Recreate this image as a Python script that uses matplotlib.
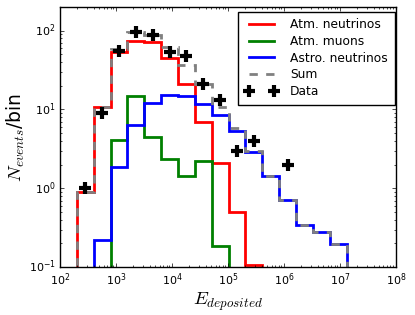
import numpy as np
import matplotlib
matplotlib.use('Agg')
import matplotlib.pyplot as plt
from matplotlib.lines import Line2D

# bin edges: 200 GeV doubling each bin
edges = 200.0 * 2.0 ** np.arange(17)
centers = np.sqrt(edges[:-1] * edges[1:])

atm_nu = [0.9, 10.6, 53, 74.5, 72, 45, 21, 7.0, 2.1, 0.50, 0.105, 0, 0, 0, 0, 0]
atm_mu = [0, 0, 4.1, 14.8, 4.5, 2.36, 1.44, 2.22, 0.186, 0, 0, 0, 0, 0, 0, 0]
astro_nu = [0, 0.22, 1.84, 6.4, 12.2, 15.1, 14.7, 11.8, 8.4, 5.3, 2.87, 1.44, 0.72, 0.34, 0.275, 0.195]
total = np.array(atm_nu) + np.array(atm_mu) + np.array(astro_nu)

data_bins = [0, 1, 2, 3, 4, 5, 6, 7, 8, 9, 10, 12]
data_counts = [1, 9, 55, 95, 88, 54, 48, 21, 13, 3, 4, 2]

plt.style.use('classic')
plt.rcParams['figure.facecolor'] = 'white'
plt.rcParams['savefig.facecolor'] = 'white'
plt.rcParams['xtick.labelsize'] = 8
plt.rcParams['ytick.labelsize'] = 8
plt.rcParams['xtick.major.size'] = 3
plt.rcParams['ytick.major.size'] = 3
plt.rcParams['xtick.minor.size'] = 1.5
plt.rcParams['ytick.minor.size'] = 1.5
plt.rcParams['xtick.major.pad'] = 3
plt.rcParams['ytick.major.pad'] = 3
plt.rcParams['mathtext.fontset'] = 'cm'

fig = plt.figure(figsize=(4.15, 3.15), dpi=100)
ax = fig.add_axes([0.1446, 0.152, 0.8094, 0.826])

styles = [
    (atm_nu, 'red', '-', 'Atm. neutrinos'),
    (atm_mu, 'green', '-', 'Atm. muons'),
    (astro_nu, 'blue', '-', 'Astro. neutrinos'),
    (total, 'gray', '--', 'Sum'),
]
handles = []
for vals, col, ls, lab in styles:
    ax.hist(centers, bins=edges, weights=vals, histtype='step', color=col, lw=2, ls=ls)
    handles.append(Line2D([], [], color=col, lw=2, ls=ls, label=lab))

data_line, = ax.plot(centers[data_bins], data_counts, ls='none', marker='+', ms=9, mew=3,
                     color='black', label='Data')
handles.append(data_line)

ax.set_xscale('log')
ax.set_yscale('log')
ax.set_xlim(1e2, 1e8)
ax.set_ylim(0.1, 200)
ax.set_xlabel(r'$E_{deposited}$', fontsize=13.5, labelpad=2)
ax.set_ylabel(r'$N_{events}$/bin', fontsize=13.5, labelpad=1)

ax.legend(handles=handles, loc='upper right', numpoints=2, fontsize=8.8, handlelength=2.7,
          handletextpad=1.0, borderpad=0.55, labelspacing=0.3,
          borderaxespad=0, bbox_to_anchor=(0.996, 0.982), fancybox=False)

fig.savefig('out.png', dpi=100)
